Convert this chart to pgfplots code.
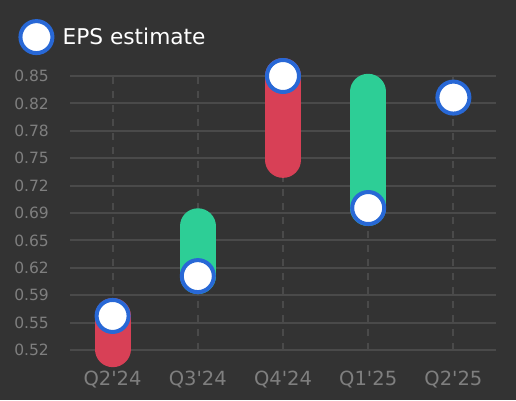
\documentclass[border=0pt]{standalone}
\usepackage{pgfplots}
\pgfplotsset{compat=1.18}
\usepackage{fontspec}
\setmainfont{DejaVu Sans}
\definecolor{bg}{HTML}{333333}
\definecolor{gridc}{HTML}{4A4A4A}
\definecolor{tickc}{HTML}{7F7F7F}
\definecolor{beatgreen}{HTML}{2DCE96}
\definecolor{missred}{HTML}{D84056}
\definecolor{epsblue}{HTML}{2868D6}
\newcommand{\q}{\textquotesingle}
\begin{document}
\begin{tikzpicture}
\fill[bg] (0,0) rectangle (516pt,400pt);
\begin{axis}[
at={(70pt,50pt)}, anchor=south west,
scale only axis,
width=426pt, height=274pt,
xmin=-0.5, xmax=4.5,
ymin=0.52, ymax=0.85,
clip=false,
axis line style={draw=none},
major tick length=0pt,
xtick={0,1,2,3,4},
xticklabels={Q2\q24,Q3\q24,Q4\q24,Q1\q25,Q2\q25},
ytick={0.52,0.553,0.586,0.619,0.652,0.685,0.718,0.751,0.784,0.817,0.85},
yticklabels={0.52,0.55,0.59,0.62,0.65,0.69,0.72,0.75,0.78,0.82,0.85},
xmajorgrids, ymajorgrids,
major x grid style={gridc, line width=2pt, dash pattern=on 7pt off 7pt},
major y grid style={gridc, line width=2pt},
yticklabel style={anchor=east, inner sep=0pt, xshift=-21pt, text=tickc, font=\fontsize{15.5}{18}\selectfont},
xticklabel style={anchor=base, inner sep=0pt, yshift=-35pt, text=tickc, font=\fontsize{19.5}{22}\selectfont},
/pgf/number format/assume math mode=true,
legend style={at={(axis description cs:-0.122,1.142)}, anchor=west, draw=none, fill=none,
  text=white, inner sep=0pt, font=\fontsize{21.7}{26}\selectfont},
legend image code/.code={
  \path (-3pt,0pt) (39pt,0pt);
  \draw[fill=white, draw=epsblue, line width=4pt] (15pt,0pt) circle (16pt);},
]
% actual vs estimate ranges
\addplot[missred, line width=36pt, line cap=round, forget plot] coordinates {(0,0.521) (0,0.561)};
\addplot[beatgreen, line width=36pt, line cap=round, forget plot] coordinates {(1,0.609) (1,0.669)};
\addplot[missred, line width=36pt, line cap=round, forget plot] coordinates {(2,0.749) (2,0.85)};
\addplot[beatgreen, line width=36pt, line cap=round, forget plot] coordinates {(3,0.691) (3,0.831)};
% estimates
\addplot[only marks, mark=*, mark size=16pt, mark options={fill=white, draw=epsblue, line width=4pt}]
  coordinates {(0,0.561) (1,0.609) (2,0.85) (3,0.691) (4,0.824)};
\addlegendentry{EPS estimate}
\end{axis}
\pgfresetboundingbox
\useasboundingbox (0,0) rectangle (516pt,400pt);
\end{tikzpicture}
\end{document}
